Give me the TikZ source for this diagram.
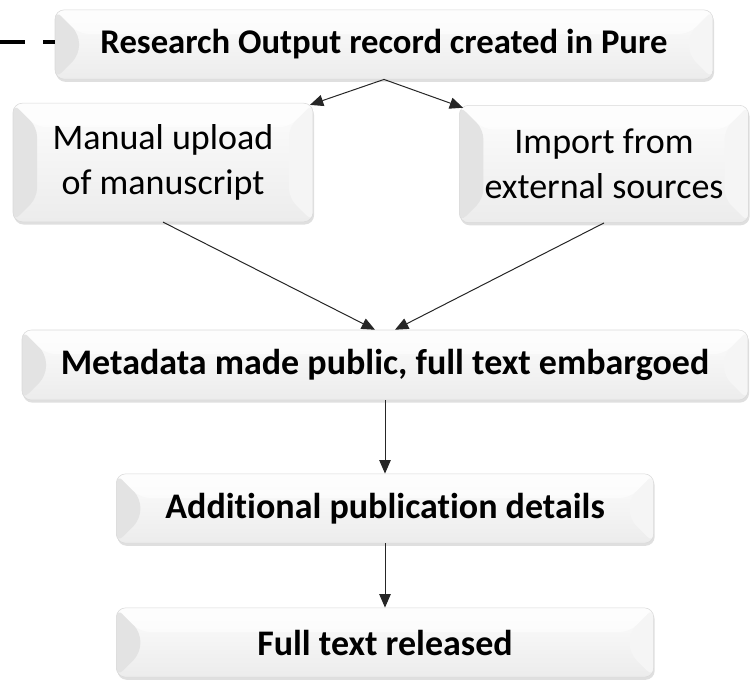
\documentclass[tikz,border=0pt]{standalone}
\usepackage{fontspec}
\setmainfont{Carlito}[Ligatures=NoCommon]
\usetikzlibrary{arrows.meta,shadows}
\begin{document}
\begin{tikzpicture}[
        x=0.75pt, y=-0.75pt,
        bevel/.style={
            rounded corners=7pt, draw=gray!30, line width=0.4pt,
            top color=gray!2, bottom color=gray!15,
            drop shadow={opacity=0.25, shadow xshift=0.8pt, shadow yshift=-2pt},
            align=center, inner sep=0pt,
            font=\fontsize{27}{34}\selectfont,
            path picture={
                \fill[gray!22] (path picture bounding box.north west) -- ([xshift=18pt,yshift=-18pt]path picture bounding box.north west)
                    -- ([xshift=18pt,yshift=18pt]path picture bounding box.south west) -- (path picture bounding box.south west) -- cycle;
                \fill[gray!8] (path picture bounding box.north east) -- ([xshift=-18pt,yshift=-18pt]path picture bounding box.north east)
                    -- ([xshift=-18pt,yshift=18pt]path picture bounding box.south east) -- (path picture bounding box.south east) -- cycle;
                \fill[white, opacity=0.6] (path picture bounding box.north west) -- ([xshift=18pt,yshift=-18pt]path picture bounding box.north west)
                    -- ([xshift=-18pt,yshift=-18pt]path picture bounding box.north east) -- (path picture bounding box.north east) -- cycle;
            }},
        wide/.style={bevel, font=\fontsize{#1}{34}\selectfont\bfseries},
        wide/.default=27,
        flow/.style={-{Triangle[length=10pt, width=8.5pt]}, line width=0.75pt, draw=black!85}
    ]
    \useasboundingbox (0,0) rectangle (752,682);
    \node[wide=26, minimum width=493.5pt, minimum height=52pt] (rec) at (384,44.5) {Research Output record created in Pure};
    \node[bevel, minimum width=225pt, minimum height=89pt] (manual) at (163,162.5) {Manual upload\\of manuscript};
    \node[bevel, minimum width=217pt, minimum height=88pt] (import) at (604,164) {Import from\\external sources};
    \node[wide, minimum width=544.5pt, minimum height=52.5pt] (meta) at (385,365) {Metadata made public, full text embargoed};
    \node[wide, minimum width=403pt, minimum height=52pt] (details) at (385,508.5) {Additional publication details};
    \node[wide, minimum width=403pt, minimum height=52pt] (release) at (385,642.5) {Full text released};
    \coordinate (lead) at (0,42);

    \draw[line width=3pt, dash pattern=on 18.75pt off 13.5pt] (lead) -- (lead -| rec.west);
    \draw[flow] (rec.south) -- ([xshift=-2.5pt,yshift=-1.5pt]manual.north east);
    \draw[flow] (rec.south) -- ([xshift=3pt,yshift=-2pt]import.north west);
    \draw[flow] (manual.south) -- ([xshift=-7.5pt]meta.north);
    \draw[flow] (import.south) -- ([xshift=7.5pt]meta.north);
    \draw[flow] (meta.south) -- (details.north);
    \draw[flow] (details.south) -- (release.north);
\end{tikzpicture}
\end{document}
